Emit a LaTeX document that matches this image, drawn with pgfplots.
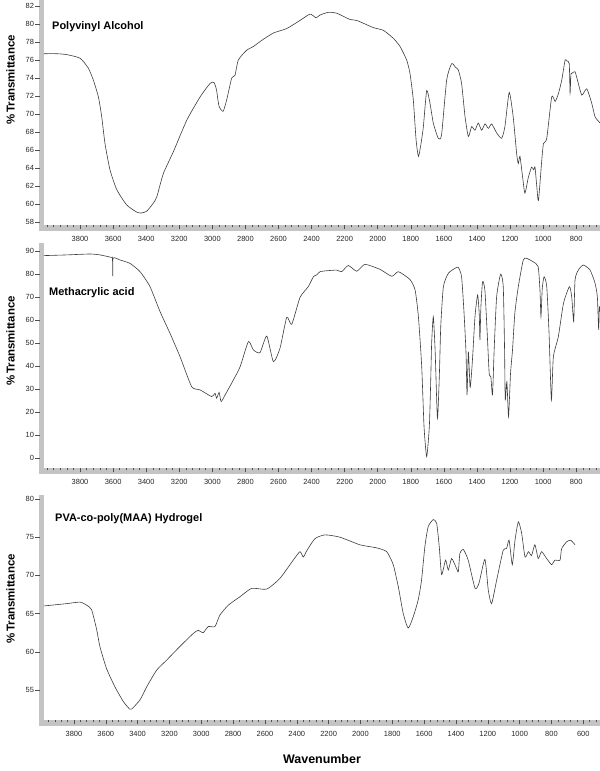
\documentclass[border=0pt]{standalone}
\usepackage{fontspec}
\setmainfont{Liberation Sans}
\usepackage{pgfplots}
\pgfplotsset{compat=1.18}
\definecolor{trace}{HTML}{3C3C3C}
\definecolor{barfill}{HTML}{C4C4C4}
\definecolor{tickcol}{HTML}{505050}

\pgfplotsset{irpanel/.style={
  scale only axis, width=556bp, height=225bp, anchor=south west,
  x dir=reverse, clip=false,
  axis x line*=bottom, axis y line*=left, axis line style={draw=none},
  tick align=outside, major tick length=4.5bp, minor tick length=2.5bp,
  x tick style={tickcol, line width=0.5bp},
  y tick style={tickcol, line width=0.5bp, xshift=-4bp},
  minor xtick={480,520,...,4000},
  tick label style={font=\fontsize{7.5}{9}\selectfont, text=black!85},
  /pgf/number format/assume math mode=true,
  /pgf/number format/1000 sep={},
  xticklabel shift=3bp, yticklabel shift=2bp,
},
spec/.style={trace, line width=0.6bp, no markers, smooth, tension=0.35}}

\begin{document}
\begin{tikzpicture}
\useasboundingbox (0,0) rectangle (600bp,771bp);
% grey frame bars
\fill[barfill] (39bp,546bp) rectangle (44bp,771bp);
\fill[barfill] (39bp,540bp) rectangle (600bp,546bp);
\fill[barfill] (39bp,303bp) rectangle (44bp,528bp);
\fill[barfill] (39bp,297bp) rectangle (600bp,303bp);
\fill[barfill] (39bp,51bp) rectangle (44bp,276bp);
\fill[barfill] (39bp,45bp) rectangle (600bp,51bp);

% Polyvinyl alcohol
\begin{axis}[irpanel, at={(44bp,546bp)},
  xmin=656, xmax=4018, ymin=57.67, ymax=82.67,
  xtick={800,1000,...,3800}, ytick={58,60,...,82}]
\addplot[spec] coordinates {
(4018,76.7) (3940,76.7) (3880,76.6) (3800,76.2) (3750,75.1) (3720,73.8)
(3689,71.9) (3669,69.7) (3649,66.7) (3619,63.8) (3578,61.6) (3518,59.9)
(3457,59.1) (3430,59.0) (3397,59.2) (3357,60.1) (3336,60.8) (3296,63.4)
(3236,65.8) (3155,69.3) (3074,71.9) (3014,73.4) (2990,73.5) (2975,72.7)
(2960,70.9) (2935,70.3) (2913,71.6) (2883,74.0) (2863,74.3) (2843,76.0)
(2792,77.1) (2752,77.5) (2700,78.2) (2631,79.0) (2550,79.5) (2470,80.4)
(2409,81.1) (2373,80.7) (2349,81.0) (2299,81.3) (2248,81.2) (2167,80.5)
(2127,80.4) (2026,79.6) (1966,79.3) (1905,78.4) (1865,77.5) (1825,76.0)
(1805,74.5) (1785,71.6) (1768,67.1) (1754,65.3) (1740,66.5) (1724,68.6)
(1704,72.6) (1684,71.2) (1664,69.0) (1634,67.3) (1614,67.7) (1583,73.8)
(1553,75.6) (1530,75.2) (1513,74.9) (1493,73.4) (1472,69.7) (1452,67.5)
(1432,68.6) (1412,68.2) (1392,69.0) (1372,68.2) (1351,68.9) (1331,68.4)
(1311,68.9) (1281,67.9) (1251,67.3) (1231,68.6) (1205,72.4) (1181,69.7)
(1160,65.6) (1150,64.5) (1140,65.3) (1124,63.0) (1110,61.2) (1090,62.9)
(1070,64.1) (1057,63.8) (1049,64.1) (1038,61.9) (1028,60.4) (1008,64.9)
(998,66.7) (978,67.3) (948,71.9) (927,71.4) (907,72.3) (887,73.8)
(867,76.0) (857,75.9) (842,75.6) (837,72.3) (832,74.4) (827,74.5)
(807,74.7) (790,73.6) (766,72.1) (736,72.8) (706,71.2) (686,69.7)
(660,69.1) (656,69.0)
};
\end{axis}

% Methacrylic acid
\begin{axis}[irpanel, at={(44bp,303bp)},
  xmin=656, xmax=4018, ymin=-4.35, ymax=93.48,
  xtick={800,1000,...,3800}, ytick={0,10,...,90}]
\addplot[spec] coordinates {
(4018,88.0) (3881,88.3) (3740,88.7) (3679,88.3) (3610,87.2) (3604,87.0)
(3602,79.1) (3600,86.9) (3558,86.1) (3498,84.6) (3437,81.0) (3377,74.5)
(3316,63.6) (3256,54.2) (3195,44.0) (3125,31.0) (3074,29.6) (3004,26.7)
(2984,28.1) (2974,26.0) (2959,28.5) (2947,24.5) (2923,27.4) (2873,33.9)
(2832,39.7) (2782,50.6) (2752,47.0) (2712,45.8) (2671,53.0) (2631,41.9)
(2591,47.7) (2550,61.2) (2520,58.1) (2470,69.8) (2420,74.5) (2389,78.8)
(2369,79.6) (2349,81.0) (2309,81.4) (2248,81.7) (2218,81.0) (2178,83.7)
(2127,81.2) (2077,84.2) (1986,82.0) (1915,79.0) (1875,81.0) (1805,77.6)
(1774,73.0) (1754,61.4) (1734,39.7) (1720,13.6) (1704,0.6) (1688,13.6)
(1680,32.5) (1674,49.9) (1664,61.4) (1653,46.9) (1639,17.3) (1627,36.8)
(1619,57.1) (1603,74.5) (1573,80.3) (1532,82.5) (1513,82.9) (1493,78.8)
(1478,62.9) (1466,45.5) (1460,27.4) (1452,46.2) (1442,31.0) (1436,33.9)
(1426,44.0) (1412,61.4) (1396,70.9) (1386,62.2) (1382,51.3) (1376,65.8)
(1366,76.7) (1352,73.0) (1338,54.2) (1326,36.8) (1316,35.3) (1306,27.4)
(1296,47.0) (1281,70.1) (1257,79.9) (1241,74.5) (1233,47.0) (1229,25.2)
(1219,33.2) (1209,18.0) (1197,36.8) (1185,47.0) (1171,62.9) (1150,74.5)
(1120,86.1) (1100,86.8) (1060,85.3) (1030,83.2) (1019,73.0) (1013,61.4)
(1005,73.8) (994,78.8) (978,74.5) (964,54.2) (950,25.2) (938,44.0)
(908,52.7) (877,67.2) (841,74.5) (827,70.1) (815,59.3) (807,77.4)
(787,81.7) (757,83.9) (716,81.7) (686,76.0) (672,70.1) (664,55.7)
(660,65.8) (656,63.6)
};
\end{axis}

% PVA-co-poly(MAA) hydrogel
\begin{axis}[irpanel, at={(44bp,51bp)},
  xmin=495, xmax=3988, ymin=51.07, ymax=80.52,
  xtick={600,800,...,3800}, ytick={55,60,...,80}]
\addplot[spec] coordinates {
(3988,66.0) (3846,66.3) (3762,66.5) (3720,66.1) (3689,65.5) (3657,62.9)
(3637,60.7) (3595,57.8) (3542,55.4) (3490,53.5) (3450,52.5) (3437,52.5)
(3385,53.7) (3343,55.4) (3280,57.6) (3218,58.9) (3134,60.7) (3050,62.4)
(3019,62.8) (2988,62.5) (2956,63.3) (2914,63.3) (2883,64.8) (2830,66.1)
(2757,67.2) (2683,68.3) (2589,68.2) (2506,69.6) (2422,72.0) (2380,73.1)
(2359,72.4) (2338,73.2) (2286,74.8) (2223,75.3) (2129,75.0) (2003,74.0)
(1898,73.6) (1835,73.1) (1794,71.4) (1762,68.5) (1731,65.0) (1700,63.1)
(1668,64.6) (1637,66.8) (1616,69.4) (1595,73.8) (1574,76.4) (1542,77.3)
(1521,76.8) (1505,73.8) (1490,70.1) (1465,72.0) (1448,70.7) (1427,72.2)
(1396,70.9) (1385,70.5) (1375,72.9) (1354,73.4) (1323,72.0) (1280,68.3)
(1255,69.0) (1218,72.1) (1197,68.1) (1176,66.3) (1144,69.4) (1103,73.3)
(1082,73.5) (1066,74.6) (1046,71.4) (1029,74.6) (1008,77.0) (987,75.5)
(966,72.4) (945,73.1) (925,72.6) (904,74.0) (883,72.2) (862,73.1)
(830,72.2) (799,71.4) (778,72.0) (746,72.0) (736,73.5) (704,74.4)
(679,74.6) (652,74.0)
};
\end{axis}

% titles and axis labels
\begin{scope}[font=\fontsize{11}{13}\selectfont\bfseries]
\node[anchor=west, inner sep=0] at (52bp,744bp) {Polyvinyl Alcohol};
\node[anchor=west, inner sep=0] at (49bp,478bp) {Methacrylic acid};
\node[anchor=west, inner sep=0] at (55bp,252bp) {PVA-co-poly(MAA) Hydrogel};
\end{scope}
\begin{scope}[font=\fontsize{11.5}{13}\selectfont\bfseries]
\node[rotate=90, inner sep=0] at (10.5bp,691bp) {\%\,Transmittance};
\node[rotate=90, inner sep=0] at (10.5bp,430bp) {\%\,Transmittance};
\node[rotate=90, inner sep=0] at (10.5bp,172bp) {\%\,Transmittance};
\end{scope}
\node[font=\fontsize{12.5}{14}\selectfont\bfseries, inner sep=0] at (322bp,12bp) {Wavenumber};
\end{tikzpicture}
\end{document}
